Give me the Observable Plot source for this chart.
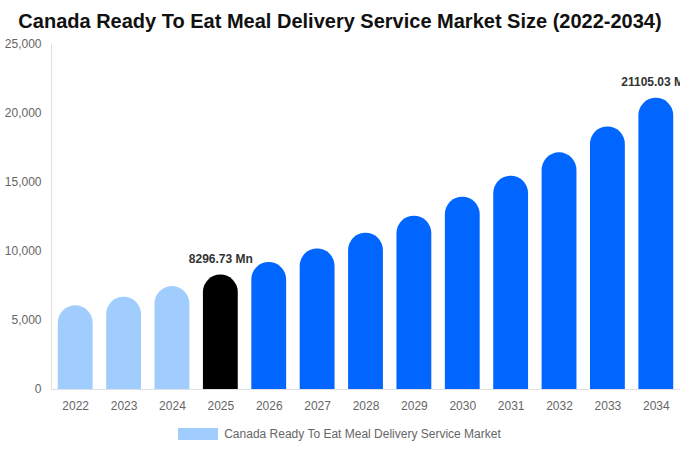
<!DOCTYPE html>
<html>
<head>
<meta charset="utf-8">
<script src="https://cdn.jsdelivr.net/npm/d3@7"></script>
<script src="https://cdn.jsdelivr.net/npm/@observablehq/plot@0.6"></script>
<style>
  html, body { margin: 0; padding: 0; background: #fff; width: 680px; overflow: hidden; }
  body { font-family: "Liberation Sans", Arial, sans-serif; }
  #title { height: 34px; line-height: 43px; text-align: center; font-weight: bold; font-size: 20px; color: #111; white-space: nowrap; }
  #chart svg { display: block; overflow: hidden; }
  #legend { display: flex; align-items: center; justify-content: center; height: 26px; margin-top: 5px; font-size: 12px; color: #666; margin-left: -1px; }
  #legend .sw { width: 40px; height: 12px; background: #a0cdfd; margin-right: 6px; }
</style>
</head>
<body>
<div id="title">Canada Ready To Eat Meal Delivery Service Market Size (2022-2034)</div>
<div id="chart"></div>
<div id="legend"><span class="sw"></span><span>Canada Ready To Eat Meal Delivery Service Market</span></div>
<script>
const years = ["2022","2023","2024","2025","2026","2027","2028","2029","2030","2031","2032","2033","2034"];
const values = [6065, 6690, 7460, 8296.73, 9200, 10190, 11330, 12560, 13940, 15460, 17150, 19030, 21105.03];
const phases = ["past","past","past","base","forecast","forecast","forecast","forecast","forecast","forecast","forecast","forecast","forecast"];
const labels = {"2025": "8296.73 Mn", "2034": "21105.03 Mn"};
const yTicks = [0, 5000, 10000, 15000, 20000, 25000];

const data = years.map((y, i) => ({year: y, value: values[i], phase: phases[i]}));
const labelData = data.filter(d => labels[d.year]);

const colorScale = {domain: ["past", "base", "forecast"], range: ["#a0cdfd", "#000000", "#0066ff"]};
// Rounded-top bars: extend each rounded rect below the baseline and clip to the frame,
// so only the top corners remain rounded.
const below = -2000;

const chart = Plot.plot({
  width: 680,
  height: 382,
  marginTop: 10,
  marginLeft: 51,
  marginRight: 0,
  marginBottom: 27,
  style: {fontFamily: "Liberation Sans, Arial, sans-serif", fontSize: "12px", background: "#fff"},
  x: {domain: years, paddingInner: 0.28, paddingOuter: 0.14, round: false, label: null},
  y: {domain: [0, 25000], label: null},
  color: colorScale,
  marks: [
    Plot.barY(data, {x: "year", y1: () => below, y2: "value", fill: "phase", rx: 17.5, clip: true}),
    Plot.frame({anchor: "left", stroke: "#e0e0e0"}),
    Plot.ruleY([0], {stroke: "#e0e0e0"}),
    Plot.axisX({tickSize: 0, tickPadding: 12, fill: "#666", fontSize: 12}),
    Plot.axisY({ticks: yTicks, tickSize: 0, tickPadding: 10, fill: "#666", fontSize: 12, tickFormat: d3.format(",")}),
    Plot.text(labelData, {x: "year", y: "value", text: d => labels[d.year], dy: -16, fontWeight: "bold", fontSize: 12, fill: "#333"})
  ]
});
document.getElementById("chart").appendChild(chart);
</script>
</body>
</html>
